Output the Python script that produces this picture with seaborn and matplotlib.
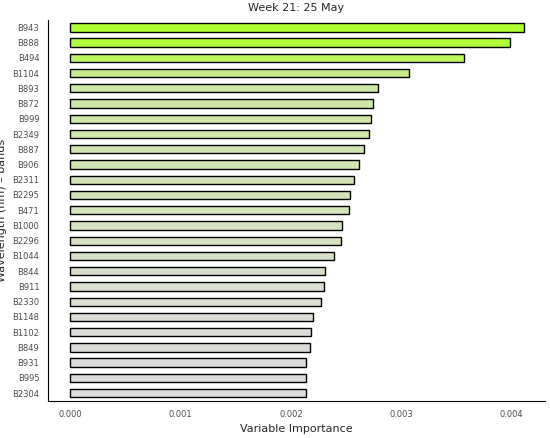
import numpy as np
import pandas as pd
import matplotlib.pyplot as plt
import matplotlib.colors as mcolors
import seaborn as sns

bands = ['B943', 'B888', 'B494', 'B1104', 'B893', 'B872', 'B999', 'B2349', 'B887', 'B906',
         'B2311', 'B2295', 'B471', 'B1000', 'B2296', 'B1044', 'B844', 'B911', 'B2330',
         'B1148', 'B1102', 'B849', 'B931', 'B995', 'B2304']
importance = [0.00411, 0.00399, 0.00357, 0.00307, 0.00279, 0.00274, 0.00273, 0.00271,
              0.00266, 0.00262, 0.00257, 0.00254, 0.00253, 0.00246, 0.00245, 0.00239,
              0.00231, 0.00230, 0.00227, 0.00220, 0.00218, 0.00217, 0.00214, 0.00214, 0.00214]

df = pd.DataFrame({'band': bands, 'imp': importance})

sns.set_style('white')
plt.rcParams['font.family'] = ['DejaVu Sans']

# grey -> greenyellow fill by value
cmap = mcolors.LinearSegmentedColormap.from_list('gg', ['#dcdcdc', '#adff2f'])
norm = mcolors.Normalize(min(importance), max(importance))
pal = [mcolors.to_hex(cmap(norm(v))) for v in importance]

fig, ax = plt.subplots(figsize=(5.5, 4.38), dpi=100)
sns.barplot(data=df, x='imp', y='band', hue='band', palette=pal, legend=False,
            saturation=1, width=0.55, edgecolor='black', linewidth=1.0, ax=ax)

ax.set_xlim(-0.0002, 0.0043)
ax.set_xticks([0, 0.001, 0.002, 0.003, 0.004])
ax.set_xticklabels(['0.000', '0.001', '0.002', '0.003', '0.004'])
ax.tick_params(axis='both', labelsize=6, length=3, color='#333333', labelcolor='#4d4d4d')
ax.set_xlabel('Variable Importance', fontsize=8)
ax.set_ylabel('Wavelength (nm) – bands', fontsize=8)
ax.set_title('Week 21: 25 May', fontsize=8)
sns.despine(ax=ax)
for s in ['left', 'bottom']:
    ax.spines[s].set_linewidth(0.8)
    ax.spines[s].set_color('black')

fig.subplots_adjust(left=0.088, right=0.99, top=0.955, bottom=0.085)
fig.savefig('out.png', dpi=100)
